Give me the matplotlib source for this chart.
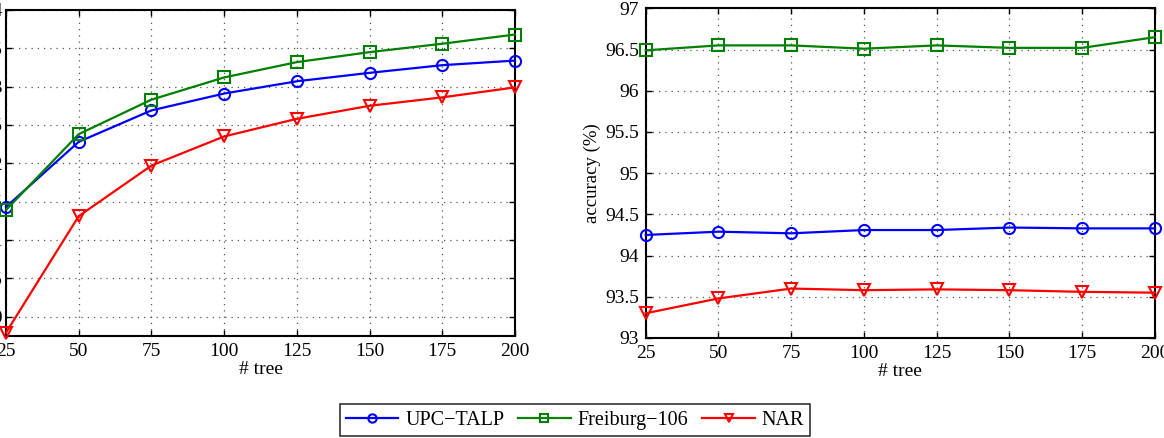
import matplotlib
matplotlib.use("Agg")
import matplotlib.pyplot as plt

plt.rcParams['font.family'] = ['Liberation Serif', 'DejaVu Serif']
plt.rcParams['axes.unicode_minus'] = True

# data
trees = [25, 50, 75, 100, 125, 150, 175, 200]
methods = ['UPC\u2212TALP', 'Freiburg\u2212106', 'NAR']

# left chart (y tick labels are cut off in the source)
left_upc = [91.43, 92.28, 92.69, 92.91, 93.07, 93.18, 93.28, 93.34]
left_frei = [91.39, 92.38, 92.83, 93.12, 93.32, 93.45, 93.56, 93.68]
left_nar = [89.79, 91.31, 91.97, 92.35, 92.58, 92.75, 92.86, 92.99]
left_yticks = [90, 90.5, 91, 91.5, 92, 92.5, 93, 93.5, 94]

# right chart: accuracy (%)
right_upc = [94.25, 94.29, 94.27, 94.31, 94.31, 94.34, 94.33, 94.33]
right_frei = [96.49, 96.55, 96.55, 96.51, 96.55, 96.52, 96.52, 96.65]
right_nar = [93.30, 93.48, 93.60, 93.58, 93.59, 93.58, 93.56, 93.55]
right_yticks = [93, 93.5, 94, 94.5, 95, 95.5, 96, 96.5, 97]

styles = [('#0000ff', 'o'), ('#008000', 's'), ('#ff0000', 'v')]

fig = plt.figure(figsize=(11.64, 4.38), dpi=100)
W, H = 1164, 438
# axes placed in pixel terms
ax1 = fig.add_axes([6 / W, (H - 335.7) / H, 509 / W, 325.7 / H])
ax2 = fig.add_axes([645.7 / W, (H - 338) / H, 509.3 / W, 329.7 / H])


def draw(ax, series, yticks, ylim):
    lines = []
    for vals, (c, m), name in zip(series, styles, methods):
        ln, = ax.plot(trees, vals, color=c, marker=m, markersize=8,
                      markerfacecolor='none', markeredgewidth=1.5,
                      linewidth=1.6, label=name, clip_on=False, zorder=3)
        lines.append(ln)
    ax.set_xlim(25, 200)
    ax.set_ylim(*ylim)
    ax.set_xticks(trees)
    ax.set_yticks(yticks)
    ax.yaxis.set_major_formatter(matplotlib.ticker.FormatStrFormatter('%g'))
    ax.grid(True, linestyle=(0, (1, 4)), color='#555555', linewidth=0.9)
    ax.tick_params(direction='in', top=True, right=True, labelsize=14,
                   length=4, width=1, pad=5)
    for s in ax.spines.values():
        s.set_linewidth(1.5)
    ax.set_xlabel('# tree', fontsize=14, labelpad=1)
    return lines


draw(ax1, [left_upc, left_frei, left_nar], left_yticks, (89.75, 94))
ax1.tick_params(axis='y', pad=2.5)
lines = draw(ax2, [right_upc, right_frei, right_nar], right_yticks, (93, 97))
ax2.set_ylabel('accuracy (%)', fontsize=13.5, labelpad=3)

fig.legend(handles=lines, loc='center', bbox_to_anchor=(575 / W, 1 - 420 / H),
           ncol=3, fontsize=14.5, frameon=True, fancybox=False,
           edgecolor='black', handlelength=2.6, columnspacing=0.7,
           handletextpad=0.35, borderpad=0.3, markerscale=0.75)
fig.legends[0].get_frame().set_linewidth(1.2)

fig.savefig('out.png', dpi=100)
